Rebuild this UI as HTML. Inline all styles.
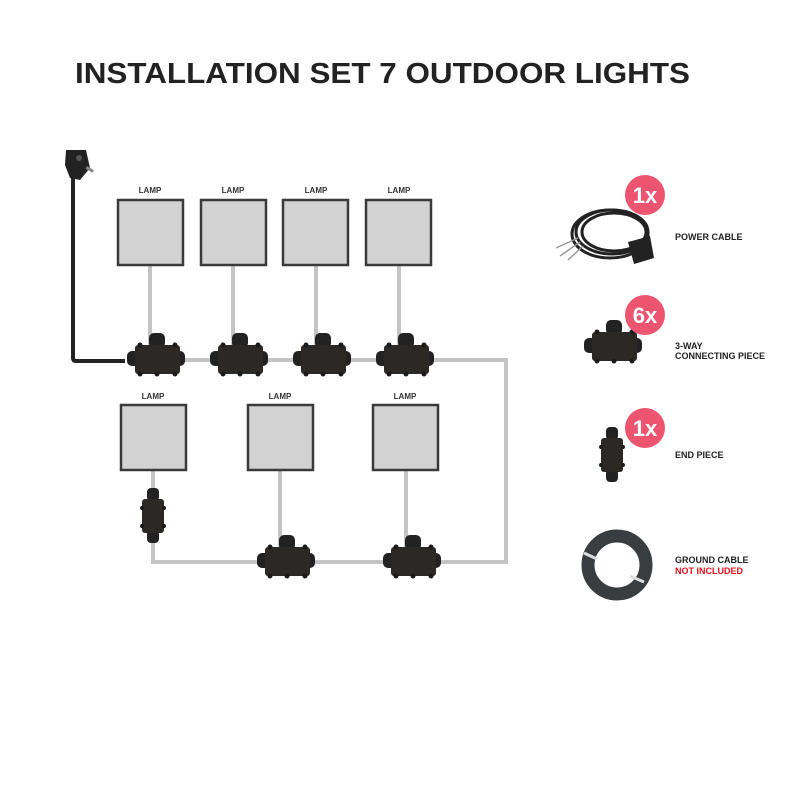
<!DOCTYPE html>
<html><head><meta charset="utf-8"><style>
body{margin:0;background:#fff;}
svg{display:block;font-family:"Liberation Sans",sans-serif;}
</style></head><body>
<svg width="800" height="800" viewBox="0 0 800 800" xmlns="http://www.w3.org/2000/svg">
<defs>
<g id="conn">
  <rect x="-30" y="-7" width="18" height="15" rx="5" fill="#222"/>
  <rect x="12" y="-7" width="16" height="15" rx="5" fill="#222"/>
  <rect x="-8" y="-25" width="16" height="15" rx="5" fill="#222"/>
  <rect x="-22" y="-13" width="45" height="29" rx="3" fill="#2b2826"/>
  <circle cx="-17" cy="-13" r="2.5" fill="#1a1a1a"/><circle cx="18" cy="-13" r="2.5" fill="#1a1a1a"/>
  <circle cx="-17" cy="16" r="2.5" fill="#1a1a1a"/><circle cx="18" cy="16" r="2.5" fill="#1a1a1a"/>
  <circle cx="0" cy="16" r="2.5" fill="#1a1a1a"/>
</g>
<g id="endp">
  <rect x="-6" y="-28" width="12" height="13" rx="4" fill="#222"/>
  <rect x="-6" y="14" width="12" height="13" rx="4" fill="#222"/>
  <rect x="-11" y="-17" width="22" height="34" rx="3" fill="#2b2826"/>
  <circle cx="-11" cy="-8" r="2" fill="#1a1a1a"/><circle cx="11" cy="-8" r="2" fill="#1a1a1a"/>
  <circle cx="-11" cy="10" r="2" fill="#1a1a1a"/><circle cx="11" cy="10" r="2" fill="#1a1a1a"/>
</g>
</defs>
<text x="75" y="83" font-size="29" font-weight="bold" fill="#222" textLength="615" lengthAdjust="spacingAndGlyphs">INSTALLATION SET 7 OUTDOOR LIGHTS</text>

<g stroke="#c4c4c4" stroke-width="4" fill="none">
  <path d="M150 265V345M233 265V345M316 265V345M399 265V345"/>
  <path d="M150 360H506V562H153V543"/>
  <path d="M153 470V490M280 470V550M406 470V550"/>
</g>
<path d="M73 170V358Q73 361 76 361H125" stroke="#222" stroke-width="4" fill="none"/>
<g>
  <path d="M66 150L86 150L90 168L80 180L70 178L65 165Z" fill="#222"/>
  <circle cx="79" cy="158" r="3" fill="#555"/>
  <rect x="86" y="168" width="8" height="3" fill="#888" transform="rotate(30 90 169)"/>
</g>

<g fill="#d2d2d2" stroke="#3a3a3a" stroke-width="2.5">
  <rect x="118" y="200" width="65" height="65"/>
  <rect x="201" y="200" width="65" height="65"/>
  <rect x="283" y="200" width="65" height="65"/>
  <rect x="366" y="200" width="65" height="65"/>
  <rect x="121" y="405" width="65" height="65"/>
  <rect x="248" y="405" width="65" height="65"/>
  <rect x="373" y="405" width="65" height="65"/>
</g>
<g font-size="8" font-weight="bold" fill="#333" text-anchor="middle">
  <text x="150" y="193">LAMP</text><text x="233" y="193">LAMP</text>
  <text x="316" y="193">LAMP</text><text x="399" y="193">LAMP</text>
  <text x="153" y="399">LAMP</text><text x="280" y="399">LAMP</text>
  <text x="405" y="399">LAMP</text>
</g>

<use href="#conn" x="157" y="358"/>
<use href="#conn" x="240" y="358"/>
<use href="#conn" x="323" y="358"/>
<use href="#conn" x="406" y="358"/>
<use href="#conn" x="287" y="560"/>
<use href="#conn" x="413" y="560"/>
<use href="#endp" x="153" y="516"/>

<g>
  <g fill="none" stroke="#222" stroke-width="3">
    <ellipse cx="612" cy="232" rx="36" ry="22"/>
    <ellipse cx="614" cy="232" rx="32" ry="19"/>
    <ellipse cx="610" cy="234" rx="38" ry="24"/>
  </g>
  <path d="M628 242L650 236L654 258L634 264Z" fill="#222"/>
  <path d="M578 238L556 248M580 242L560 256M583 246L568 260" stroke="#999" stroke-width="1.5"/>
  <circle cx="645" cy="195" r="20" fill="#ec5470"/>
  <text x="645" y="203" font-size="22" font-weight="bold" fill="#fff" text-anchor="middle">1x</text>

  <use href="#conn" x="614" y="345"/>
  <circle cx="645" cy="315" r="20" fill="#ec5470"/>
  <text x="645" y="323" font-size="22" font-weight="bold" fill="#fff" text-anchor="middle">6x</text>

  <use href="#endp" x="612" y="455"/>
  <circle cx="645" cy="428" r="20" fill="#ec5470"/>
  <text x="645" y="436" font-size="22" font-weight="bold" fill="#fff" text-anchor="middle">1x</text>

  <circle cx="617" cy="565" r="29" fill="none" stroke="#3a3d3f" stroke-width="13"/>
  <path d="M584 553L597 559M630 576L644 582" stroke="#ddd" stroke-width="3"/>
</g>
<g font-size="9" font-weight="bold" fill="#222">
  <text x="675" y="240">POWER CABLE</text>
  <text x="675" y="349">3-WAY</text>
  <text x="675" y="359">CONNECTING PIECE</text>
  <text x="675" y="458">END PIECE</text>
  <text x="675" y="563">GROUND CABLE</text>
  <text x="675" y="574" fill="#e8101c">NOT INCLUDED</text>
</g>
</svg>
</body></html>
